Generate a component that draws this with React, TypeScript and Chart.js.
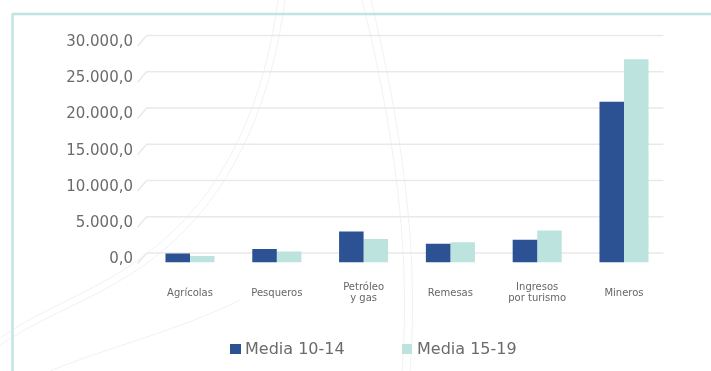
import React, { useEffect, useRef } from 'react';
import { Chart, registerables } from 'chart.js';

Chart.register(...registerables);

const categories: (string | string[])[] = [
  'Agrícolas',
  'Pesqueros',
  ['Petróleo', 'y gas'],
  'Remesas',
  ['Ingresos', 'por turismo'],
  'Mineros',
];
const seriesNames = ['Media 10-14', 'Media 15-19'];
const media1014 = [1250, 1850, 4270, 2580, 3130, 22170];
const media1519 = [900, 1500, 3230, 2800, 4410, 28010];
const seriesColors = ['#2c5294', '#bde3df'];
const yMin = 0;
const yMax = 30000;
const yStep = 5000;

const FONT = "'DejaVu Sans', sans-serif";
const TEXT = '#6b6b6b';

function fmt(v: number): string {
  const s = Math.round(v).toString().replace(/\B(?=(\d{3})+(?!\d))/g, '.');
  return s + ',0';
}

const backGrid = {
  id: 'backGrid',
  beforeDatasetsDraw(chart: any) {
    const { ctx, chartArea, scales } = chart;
    const y = scales.y;
    ctx.save();
    ctx.strokeStyle = '#e9e9e9';
    ctx.lineWidth = 1.5;
    y.ticks.forEach((t: any) => {
      const py = y.getPixelForValue(t.value);
      ctx.beginPath();
      ctx.moveTo(chartArea.left - 9, py + 1);
      ctx.lineTo(chartArea.left, py - 9.5);
      ctx.lineTo(chartArea.right - 4, py - 9.5);
      ctx.stroke();
    });
    ctx.restore();
  },
};

export default function App() {
  const ref = useRef<HTMLCanvasElement | null>(null);

  useEffect(() => {
    if (!ref.current) return;
    const chart = new Chart(ref.current, {
      type: 'bar',
      data: {
        labels: categories as any,
        datasets: [
          { label: seriesNames[0], data: media1014, backgroundColor: seriesColors[0], borderWidth: 0 },
          { label: seriesNames[1], data: media1519, backgroundColor: seriesColors[1], borderWidth: 0 },
        ],
      },
      options: {
        animation: false,
        responsive: false,
        devicePixelRatio: 1,
        layout: { padding: { left: 0, right: 43.6, top: 44.9, bottom: 48.5 } },
        datasets: { bar: { barPercentage: 1, categoryPercentage: 0.565 } },
        plugins: { legend: { display: false }, tooltip: { enabled: false } },
        scales: {
          x: {
            afterFit: (s: any) => {
              s.height = 60;
            },
            grid: { display: false, drawTicks: false },
            border: { display: false },
            ticks: {
              font: { family: FONT, size: 10, lineHeight: 1.1 },
              color: '#666666',
              padding: 25,
              maxRotation: 0,
              autoSkip: false,
              crossAlign: 'center',
            },
          },
          y: {
            min: yMin,
            max: yMax,
            afterFit: (s: any) => {
              s.width = 146.6;
            },
            grid: { display: false, drawTicks: false },
            border: { display: false },
            ticks: {
              stepSize: yStep,
              padding: 13.6,
              labelOffset: -3,
              font: { family: FONT, size: 15 },
              color: TEXT,
              callback: (v: any) => fmt(Number(v)),
            },
          },
        },
      },
      plugins: [backGrid],
    });
    return () => chart.destroy();
  }, []);

  const legendBoxX = [230, 401.7];
  const legendTextX = [245, 417];

  return (
    <div style={{ position: 'fixed', left: 0, top: 0, width: 711, height: 371, background: '#fff', overflow: 'hidden' }}>
      <svg width={711} height={371} style={{ position: 'absolute', left: 0, top: 0 }}>
        <g fill="none" stroke="#f2f2f2" strokeWidth={1}>
          <path d="M 285 0 C 272 100, 235 185, 175 240 S 60 305, 0 345" />
          <path d="M 278 0 C 265 100, 228 182, 168 236 S 55 300, 0 338" />
          <path d="M 362 0 C 392 120, 412 250, 402 371" />
          <path d="M 371 0 C 400 120, 420 250, 410 371" />
          <path d="M 240 300 C 180 330, 100 350, 50 371" />
        </g>
        <line x1={12} y1={14} x2={711} y2={14} stroke="#c0e4e1" strokeWidth={2.5} />
        <line x1={12.5} y1={14} x2={12.5} y2={371} stroke="#c0e4e1" strokeWidth={2.5} />
      </svg>
      <canvas ref={ref} width={711} height={371} style={{ position: 'absolute', left: 0, top: 0 }} />
      {seriesNames.map((n, i) => (
        <React.Fragment key={n}>
          <div
            style={{
              position: 'absolute',
              left: legendBoxX[i],
              top: 343.5,
              width: 10.5,
              height: 10.5,
              background: seriesColors[i],
            }}
          />
          <div
            style={{
              position: 'absolute',
              left: legendTextX[i],
              top: 339,
              height: 20,
              lineHeight: '20px',
              fontFamily: FONT,
              fontSize: 16,
              color: TEXT,
              whiteSpace: 'nowrap',
            }}
          >
            {n}
          </div>
        </React.Fragment>
      ))}
    </div>
  );
}
